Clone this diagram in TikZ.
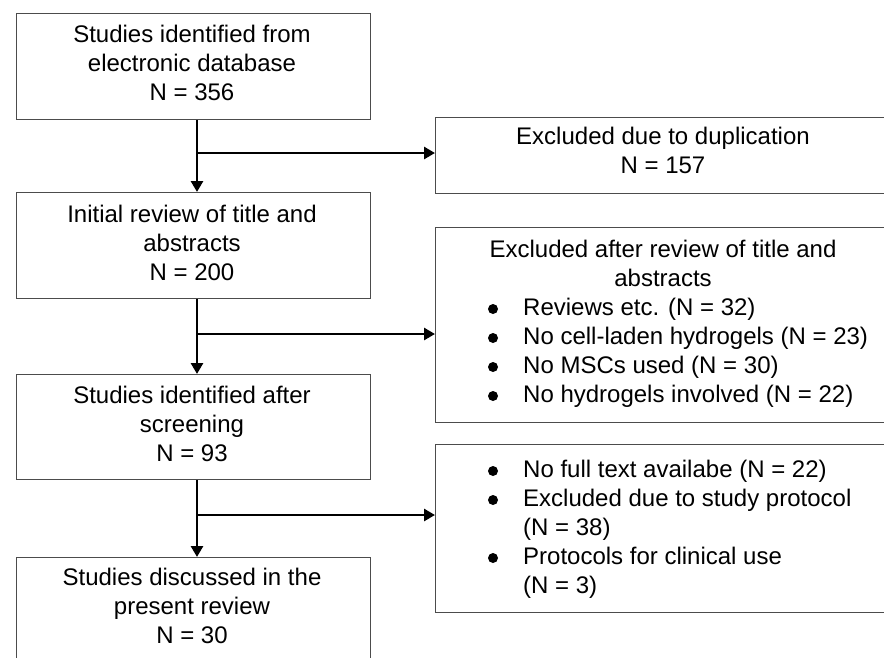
\documentclass[tikz,border=0pt]{standalone}
\usepackage{fontspec}
\setmainfont{Liberation Sans}
\usetikzlibrary{arrows.meta}
\begin{document}
\begin{tikzpicture}[x=1pt,y=-1pt,
  box/.style={draw=black!70, line width=1pt, inner sep=0pt, anchor=north west},
  txt/.style={font=\fontsize{24}{29}\selectfont, inner sep=0pt, text=black},
  arr/.style={line width=2.7pt, -{Triangle[length=11pt,width=12pt]}},
  bul/.style={fill=black}]
\useasboundingbox (0,0) rectangle (884,657);
\clip (0,0) rectangle (884,657);
\fill[white] (0,0) rectangle (884,657);
% left column boxes
\node[box, minimum width=354pt, minimum height=106pt] (b1) at (16,13) {};
\node[box, minimum width=354pt, minimum height=106pt] (b2) at (16,192) {};
\node[box, minimum width=354pt, minimum height=105pt] (b3) at (16,374) {};
\node[box, minimum width=354pt, minimum height=113pt] (b4) at (16,557) {};
% right column boxes
\node[box, minimum width=456pt, minimum height=76pt] (ea) at (435,117) {};
\node[box, minimum width=456pt, minimum height=195pt] (eb) at (435,227) {};
\node[box, minimum width=456pt, minimum height=168pt] (ec) at (435,444) {};
% left texts (anchor = baseline of last line)
\node[txt, align=center, anchor=base] (t1) at (192,100) {Studies identified from\\electronic database\\N = 356};
\node[txt, align=center, anchor=base] (t2) at (192,280) {Initial review of title and\\abstracts\\N = 200};
\node[txt, align=center, anchor=base] (t3) at (192,461) {Studies identified after\\screening\\N = 93};
\node[txt, align=center, anchor=base] (t4) at (192,643) {Studies discussed in the\\present review\\N = 30};
% right texts
\node[txt, align=center, anchor=base] (ta) at (663,173) {Excluded due to duplication\\N = 157};
\node[txt, align=center, anchor=base] (tb) at (663,286) {Excluded after review of title and\\abstracts};
\node[txt, align=left, anchor=base west] (lb) at (523,402) {Reviews etc. (N = 32)\\No cell-laden hydrogels (N = 23)\\No MSCs used (N = 30)\\No hydrogels involved (N = 22)};
\node[txt, align=left, anchor=base west] (lc) at (523,593) {No full text availabe (N = 22)\\Excluded due to study protocol\\(N = 38)\\Protocols for clinical use\\(N = 3)};
% bullets
\foreach \yy in {315,344,373,402,477,506,564} \fill[bul] (493,\yy-6) circle (5pt);
% connectors
\coordinate (j1) at (197,153);
\coordinate (j2) at (197,334);
\coordinate (j3) at (197,515);
\draw[arr] (b1.south -| j1) -- (b2.north -| j1);
\draw[arr] (b2.south -| j2) -- (b3.north -| j2);
\draw[arr] (b3.south -| j3) -- (b4.north -| j3);
\draw[arr] (j1) -- (j1 -| ea.west);
\draw[arr] (j2) -- (j2 -| eb.west);
\draw[arr] (j3) -- (j3 -| ec.west);
\end{tikzpicture}
\end{document}
